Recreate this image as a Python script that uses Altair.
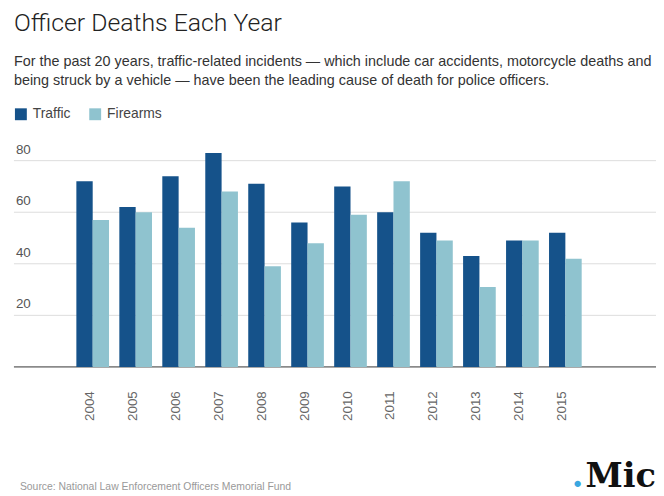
import altair as alt
import pandas as pd

# ---- data ----
years = ["2004", "2005", "2006", "2007", "2008", "2009", "2010", "2011", "2012", "2013", "2014", "2015"]
traffic = [72, 62, 74, 83, 71, 56, 70, 60, 52, 43, 49, 52]
firearms = [57, 60, 54, 68, 39, 48, 59, 72, 49, 31, 49, 42]
series = ["Traffic", "Firearms"]
colors = ["#15528a", "#8fc3cf"]
tick_values = [20, 40, 60, 80]

title_text = "Officer Deaths Each Year"
subtitle_lines = [
    "For the past 20 years, traffic-related incidents \u2014 which include car accidents, motorcycle deaths and",
    "being struck by a vehicle \u2014 have been the leading cause of death for police officers.",
]
source_text = "Source: National Law Enforcement Officers Memorial Fund"
logo_text = "Mic"

rows = []
for yr, t, f in zip(years, traffic, firearms):
    rows.append({"year": yr, "series": "Traffic", "deaths": t})
    rows.append({"year": yr, "series": "Firearms", "deaths": f})
df = pd.DataFrame(rows)

W, H = 648, 229
SANS = "Liberation Sans"

x_scale = alt.Scale(domain=years, range=[63, 573], paddingInner=0.24, paddingOuter=0)
y_scale = alt.Scale(domain=[0, 88], nice=False)

grid = alt.Chart(pd.DataFrame({"v": tick_values})).mark_rule(
    color="#dddddd", strokeWidth=1
).encode(x=alt.value(0), x2=alt.value(W), y=alt.Y("v:Q", scale=y_scale, axis=None))

baseline = alt.Chart(pd.DataFrame({"v": [0]})).mark_rule(
    color="#333333", strokeWidth=1
).encode(x=alt.value(0), x2=alt.value(W), y=alt.Y("v:Q", scale=y_scale, axis=None))

bars = alt.Chart(df).mark_bar().encode(
    x=alt.X("year:N", sort=years, scale=x_scale,
            axis=alt.Axis(title=None, labelAngle=270, ticks=False, domain=False,
                          labelPadding=24, labelFontSize=13.5,
                          labelColor="#666666", labelFont=SANS, labelOffset=-3)),
    xOffset=alt.XOffset("series:N", sort=series,
                        scale=alt.Scale(domain=series, paddingInner=0, paddingOuter=0)),
    y=alt.Y("deaths:Q", scale=y_scale, axis=None),
    color=alt.Color("series:N", sort=series,
                    scale=alt.Scale(domain=series, range=colors),
                    legend=alt.Legend(title=None, orient="none", legendX=0, legendY=-33,
                                      direction="horizontal", symbolType="square",
                                      symbolSize=144, symbolStrokeWidth=0,
                                      labelFontSize=14, labelFont=SANS,
                                      labelColor="#444444", columnPadding=17,
                                      labelOffset=5, padding=0)),
)

ylabels = alt.Chart(pd.DataFrame({"v": tick_values})).mark_text(
    align="left", baseline="alphabetic", dy=-7, fontSize=13.5, font=SANS, color="#555555"
).encode(
    x=alt.value(2),
    y=alt.Y("v:Q", scale=y_scale, axis=None),
    text=alt.Text("v:Q"),
)

source = alt.Chart(pd.DataFrame({"t": [source_text]})).mark_text(
    align="left", baseline="alphabetic", fontSize=10.5, font=SANS, color="#999999"
).encode(x=alt.value(6), y=alt.value(353), text="t:N")

logo = alt.Chart(pd.DataFrame({"t": [logo_text]})).mark_text(
    align="right", baseline="alphabetic", fontSize=34, font="DejaVu Serif",
    fontWeight="bold", color="#111111"
).encode(x=alt.value(648), y=alt.value(350), text="t:N")

logo_dot = alt.Chart(pd.DataFrame({"t": ["."]})).mark_text(
    align="center", baseline="alphabetic", fontSize=34, font="DejaVu Serif",
    fontWeight="bold", color="#3aa7e0"
).encode(x=alt.value(569), y=alt.value(350), text="t:N")

chart = alt.layer(grid, baseline, bars, ylabels, source, logo, logo_dot).properties(
    width=W,
    height=H,
    autosize=alt.AutoSizeParams(type="none"),
    padding={"left": 6, "top": 131, "right": 0, "bottom": 126},
    title=alt.TitleParams(
        title_text, subtitle=subtitle_lines, anchor="start", frame="group",
        font="Roboto", fontWeight=300, fontSize=25, color="#222222",
        subtitleFont=SANS, subtitleFontSize=14.5, subtitleColor="#333333",
        subtitleLineHeight=19, subtitlePadding=20, offset=20,
    ),
).configure(
    background="white",
    view=alt.ViewConfig(stroke="transparent", strokeWidth=0),
)

chart.save("out.html", embed_options={"renderer": "svg", "actions": False})
